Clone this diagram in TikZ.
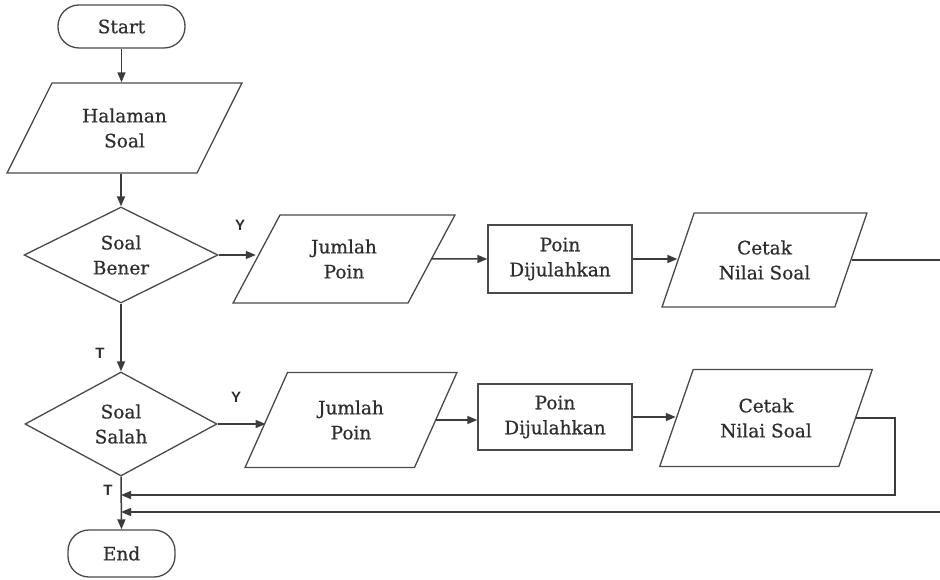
\documentclass[tikz,border=0pt]{standalone}
\usepackage{fontspec}
\setmainfont{DejaVu Serif}
\newfontfamily\boxfont{DejaVu Serif}[BoldFont={DejaVu Serif}, BoldFeatures={FakeBold=0.6}]
\newfontfamily\labelfont{Liberation Sans}
\usetikzlibrary{shapes.geometric,arrows.meta}
\definecolor{linegray}{HTML}{3C3C3C}
\definecolor{boxgray}{HTML}{4A4A4A}
\definecolor{textgray}{HTML}{2E2E2E}

\tikzset{
  txt/.style={font=\boxfont\bfseries\fontsize{18.5}{25}\selectfont, text=textgray, align=center, inner sep=0pt},
  box/.style={txt, draw=boxgray, line width=1.3pt, fill=white},
  term/.style={box, rounded corners=21pt},
  io/.style={box, trapezium, trapezium stretches=true},
  procbox/.style={box, rectangle},
  decision/.style={box, diamond, aspect=2},
  flow/.style={draw=linegray, line width=1.5pt, -{Triangle[length=10pt,width=8pt]}},
  plainline/.style={draw=linegray, line width=1.5pt},
  branch/.style={font=\labelfont\bfseries\fontsize{15}{15}\selectfont, text=textgray, inner sep=0pt}
}

\begin{document}
\begin{tikzpicture}[x=1pt,y=-1pt]
\useasboundingbox (0,0) rectangle (940,580);
\clip (0,0) rectangle (940,580);
\fill[white] (0,0) rectangle (940,580);

% terminals
\node[term, minimum width=127pt, minimum height=43pt] (start) at (121.5,26.5) {Start};
\node[term, minimum width=107pt, minimum height=47pt] (end) at (121.5,553.5) {End};

% input page
\node[io, minimum width=235pt, minimum height=90pt,
      trapezium left angle=56.3, trapezium right angle=123.7] (hal) at (124.5,128) {Halaman\\Soal};

% decisions
\node[decision, minimum width=194pt, minimum height=96pt] (bener) at (121,255) {Soal\\Bener};
\node[decision, minimum width=192pt, minimum height=104pt] (salah) at (121,424) {Soal\\Salah};

% upper branch
\node[io, minimum width=222pt, minimum height=88pt,
      trapezium left angle=58.5, trapezium right angle=121.5] (j1) at (344,259) {Jumlah\\Poin};
\node[procbox, minimum width=144pt, minimum height=68pt] (p1) at (560,259) {Poin\\Dijulahkan};
\node[io, minimum width=205pt, minimum height=94pt,
      trapezium left angle=62, trapezium right angle=118] (c1) at (764.5,260) {Cetak\\Nilai Soal};

% lower branch
\node[io, minimum width=212pt, minimum height=95pt,
      trapezium left angle=60.8, trapezium right angle=119.2] (j2) at (351,420) {Jumlah\\Poin};
\node[procbox, minimum width=154pt, minimum height=66pt] (p2) at (555,417) {Poin\\Dijulahkan};
\node[io, minimum width=213pt, minimum height=97pt,
      trapezium left angle=61.8, trapezium right angle=118.2] (c2) at (766,418) {Cetak\\Nilai Soal};

% branch labels
\node[branch] (y1) at (240,225) {Y};
\node[branch] (y2) at (236,397) {Y};
\node[branch] (t1) at (100,353) {T};
\node[branch] (t2) at (108,490) {T};

% return routing points
\coordinate (rtop) at (950,255);
\coordinate (rbot) at (950,512);
\coordinate (join1) at (121,512);
\coordinate (loopx) at (895,495);
\coordinate (join2) at (121,495);

% connectors
\draw[flow] (start.south) -- (start.south |- hal.north);
\draw[flow] (bener.north |- hal.south) -- (bener.north);
\draw[flow] (bener.east) -- (bener.east -| j1.west);
\draw[flow] (j1.east) -- (p1.west);
\draw[flow] (p1.east) -- (p1.east -| c1.west);
\draw[flow] (bener.south) -- (salah.north);
\draw[flow] (salah.east) -- (salah.east -| j2.west);
\draw[flow] (j2.east) -- (j2.east -| p2.west);
\draw[flow] (p2.east) -- (p2.east -| c2.west);
\draw[flow] (salah.south) -- (end.north);

% results returning to the end
\draw[plainline] (c1.east) -- (c1.east -| rtop) -- (rbot);
\draw[flow] (rbot) -- (join1);
\draw[flow] (c2.east) -- (c2.east -| loopx) -- (loopx) -- (join2);
\end{tikzpicture}
\end{document}
